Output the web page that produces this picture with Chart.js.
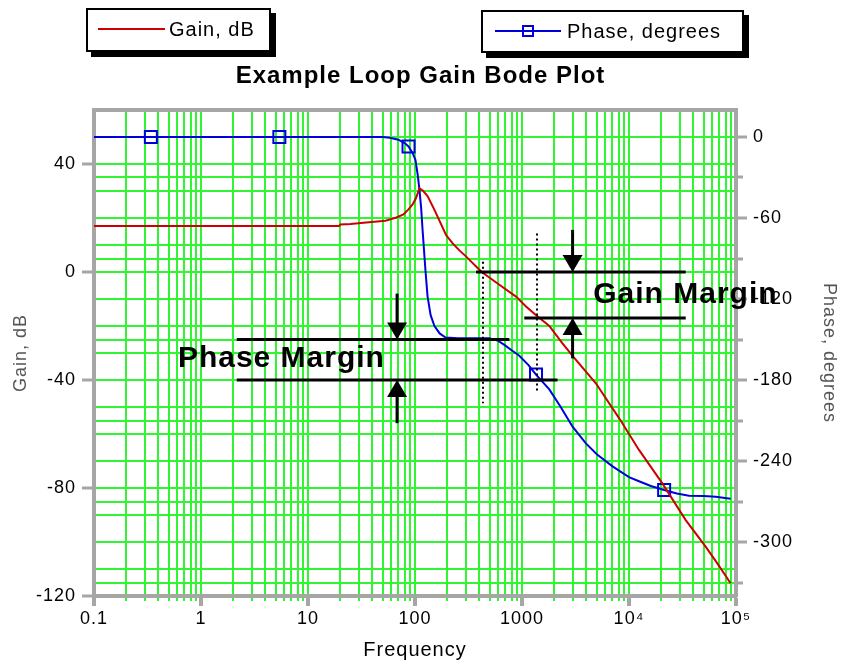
<!DOCTYPE html>
<html>
<head>
<meta charset="utf-8">
<title>Example Loop Gain Bode Plot</title>
<script src="https://cdn.jsdelivr.net/npm/chart.js@4.4.1/dist/chart.umd.min.js"></script>
<style>
  body { margin: 0; background: #fff; }
  #wrap { position: relative; width: 841px; height: 662px; font-family: 'Liberation Sans', Arial, sans-serif; }
  .legend-box { position: absolute; box-sizing: border-box; border: 2px solid #000; box-shadow: 5px 5px 0 #000; background: #fff; }
  .legend-box .swatch { position: absolute; height: 2px; }
  .legend-box .marker { position: absolute; width: 12px; height: 12px; box-sizing: border-box; border: 2px solid #0000dd; }
  .legend-box .label { position: absolute; font-size: 20px; line-height: 24px; letter-spacing: 1px; color: #000; white-space: nowrap; }
</style>
</head>
<body>
<div id="wrap">
  <canvas id="bodeChart" width="841" height="662"></canvas>
  <div class="legend-box" style="left:86px; top:8px; width:185px; height:44px;">
    <div class="swatch" style="left:10px; top:18px; width:67px; background:#cc0000;"></div>
    <div class="label" style="left:81px; top:7px;">Gain, dB</div>
  </div>
  <div class="legend-box" style="left:481px; top:10px; width:263px; height:43px;">
    <div class="swatch" style="left:12px; top:18px; width:66px; background:#0000dd;"></div>
    <div class="marker" style="left:39px; top:13px;"></div>
    <div class="label" style="left:84px; top:7px;">Phase, degrees</div>
  </div>
</div>
<script>
// values
const gainFreq = [0.1, 19.6, 20, 25, 35, 53, 67, 78, 86, 95, 102, 110, 118, 131, 152, 195, 225, 260, 301, 395, 430,
  614, 879, 1090, 1400, 1800, 2390, 2970, 4900, 8100, 12400, 20500, 33900, 52000, 66900, 89000];
const gainDb = [17, 17, 17.6, 17.8, 18.3, 19.0, 20.2, 21.3, 23, 25, 27.3, 31, 30.2, 28.1, 23, 13.7, 10.6, 8, 5.7, 1.0, -0.3,
  -4.7, -9.1, -12.8, -16.5, -20, -26.4, -31.1, -41.2, -54.2, -65.9, -78.3, -91.9, -101.7, -107.9, -115.3];

const phaseFreq = [0.1, 0.34, 5.4, 50, 58, 70, 80, 87, 95, 101, 106, 110, 114, 118, 125, 131, 140, 152, 170, 193, 250,
  350, 495, 600, 684, 800, 944, 1150, 1352, 1800, 2300, 2970, 3955, 5000, 7015, 10000, 12400, 16000, 21300, 28000,
  36400, 50000, 64600, 89000];
const phaseDeg = [0, 0, 0, 0, -0.5, -2, -4.5, -7, -12, -17, -28, -39, -52, -70, -98, -118, -132, -140, -145.5, -148.5, -149,
  -149, -149, -151, -154, -158, -162, -169, -176, -187, -200, -214.6, -227, -235, -244, -252, -255, -258.5, -261.5, -264,
  -265.7, -266, -266.4, -268];
const phaseMarkerFreq = [0.34, 5.4, 87, 1352, 21300];

const decadeTicks = [0.1, 1, 10, 100, 1000, 1e4, 1e5];
const decadeLabels = ['0.1', '1', '10', '100', '1000', '10\u2074', '10\u2075'];
const gainGrid = [60, 50, 40, 30, 20, 10, 0, -10, -20, -30, -40, -50, -60, -70, -80, -90, -100, -110, -120];
const gainTickLabels = [40, 0, -40, -80, -120];
const phaseGrid = [0, -30, -60, -90, -120, -150, -180, -210, -240, -270, -300, -330];
const phaseTickLabels = [0, -60, -120, -180, -240, -300];

// margin construction, in data units (Hz, dB, degrees)
const pmLevels = [-150, -180];
const pmLineFreq = [[2.16, 762], [2.16, 2150]];
const pmArrowFreq = 68;
const pmArrowTails = [-116, -212];
const gmLevels = [0, -17];
const gmLineFreq = [[372, 33900], [1050, 33900]];
const gmArrowFreq = 2970;
const gmArrowTails = [15.6, -32];
const crossFreq = [430, 1380];
const crossGain = [[3.8, -48.6], [14.3, -44.3]];
const pmTextAt = [0.608, -35.2];
const gmTextAt = [4633, -11.6];

// log grid: every 1..9 within each decade
const freqGrid = [];
decadeTicks.slice(0, -1).forEach(d => {
  for (let m = 1; m < 10; m++) freqGrid.push(d * m);
});
freqGrid.push(1e5);

const GRID = 'rgb(48,245,48)';
const AXIS = '#a6a6a6';

function isDecade(v) {
  return decadeTicks.some(d => Math.abs(v / d - 1) < 1e-6);
}
function decadeLabel(v) {
  const i = decadeTicks.findIndex(d => Math.abs(v / d - 1) < 1e-6);
  return i >= 0 ? decadeLabels[i] : '';
}

const bodeExtras = {
  id: 'bodeExtras',
  beforeDraw(chart) {
    chart.ctx.letterSpacing = '1px';
  },
  afterDatasetsDraw(chart) {
    const ctx = chart.ctx;
    const xs = chart.scales.x, yg = chart.scales.y, yp = chart.scales.y2;
    const area = chart.chartArea;
    const X = f => xs.getPixelForValue(f);

    ctx.save();
    // top frame line
    ctx.strokeStyle = AXIS;
    ctx.lineWidth = 4;
    ctx.beginPath();
    ctx.moveTo(area.left - 2, area.top);
    ctx.lineTo(area.right + 2, area.top);
    ctx.stroke();

    ctx.strokeStyle = '#000';
    ctx.fillStyle = '#000';

    function hline(y, f1, f2) {
      ctx.lineWidth = 3;
      ctx.beginPath();
      ctx.moveTo(X(f1), y);
      ctx.lineTo(X(f2), y);
      ctx.stroke();
    }
    function arrow(x, yTail, yTip) {
      const dir = yTip > yTail ? 1 : -1;
      ctx.lineWidth = 3;
      ctx.beginPath();
      ctx.moveTo(x, yTail);
      ctx.lineTo(x, yTip - dir * 16);
      ctx.stroke();
      ctx.beginPath();
      ctx.moveTo(x, yTip);
      ctx.lineTo(x - 10, yTip - dir * 17);
      ctx.lineTo(x + 10, yTip - dir * 17);
      ctx.closePath();
      ctx.fill();
    }

    // phase margin
    pmLevels.forEach((p, i) => hline(yp.getPixelForValue(p), pmLineFreq[i][0], pmLineFreq[i][1]));
    pmLevels.forEach((p, i) => arrow(X(pmArrowFreq), yp.getPixelForValue(pmArrowTails[i]), yp.getPixelForValue(p)));
    // gain margin
    gmLevels.forEach((g, i) => hline(yg.getPixelForValue(g), gmLineFreq[i][0], gmLineFreq[i][1]));
    gmLevels.forEach((g, i) => arrow(X(gmArrowFreq), yg.getPixelForValue(gmArrowTails[i]), yg.getPixelForValue(g)));

    // dotted crossover markers
    ctx.lineWidth = 2;
    ctx.setLineDash([2, 3]);
    crossFreq.forEach((f, i) => {
      ctx.beginPath();
      ctx.moveTo(Math.round(X(f)), yg.getPixelForValue(crossGain[i][0]));
      ctx.lineTo(Math.round(X(f)), yg.getPixelForValue(crossGain[i][1]));
      ctx.stroke();
    });
    ctx.setLineDash([]);

    ctx.font = 'bold 30px "Liberation Sans", Arial, sans-serif';
    ctx.textAlign = 'left';
    ctx.textBaseline = 'alphabetic';
    ctx.fillText('Phase Margin', X(pmTextAt[0]), yg.getPixelForValue(pmTextAt[1]));
    ctx.fillText('Gain Margin', X(gmTextAt[0]), yg.getPixelForValue(gmTextAt[1]));
    ctx.restore();
  }
};

Chart.defaults.font.family = "'Liberation Sans', Arial, sans-serif";
Chart.defaults.color = '#000';

const ctx = document.getElementById('bodeChart').getContext('2d');
const bodeChart = new Chart(ctx, {
  type: 'line',
  data: {
    datasets: [{
      label: 'Gain, dB',
      data: gainFreq.map((f, i) => ({x: f, y: gainDb[i]})),
      yAxisID: 'y',
      borderColor: '#cc0000',
      borderWidth: 2,
      pointRadius: 0,
      tension: 0
    }, {
      label: 'Phase, degrees',
      data: phaseFreq.map((f, i) => ({x: f, y: phaseDeg[i]})),
      yAxisID: 'y2',
      borderColor: '#0000dd',
      borderWidth: 2,
      tension: 0,
      pointStyle: 'rect',
      pointRadius: c => phaseMarkerFreq.includes(c.raw.x) ? 8.5 : 0,
      pointHoverRadius: 0,
      pointBorderColor: '#0000dd',
      pointBorderWidth: 2,
      pointBackgroundColor: 'rgba(0,0,0,0)'
    }]
  },
  options: {
    responsive: false,
    animation: false,
    events: [],
    layout: { padding: 0 },
    plugins: {
      legend: { display: false },
      tooltip: { enabled: false },
      title: {
        display: true,
        text: 'Example Loop Gain Bode Plot',
        font: { size: 24, weight: 'bold', lineHeight: 1.2 },
        color: '#000',
        padding: { top: 62, bottom: 19.2 }
      }
    },
    scales: {
      x: {
        type: 'logarithmic',
        min: 0.1,
        max: 1e5,
        afterBuildTicks: s => { s.ticks = freqGrid.map(v => ({value: v})); },
        afterFit: s => { s.height = 66; },
        ticks: {
          autoSkip: false,
          maxRotation: 0,
          padding: 2,
          font: { size: 18 },
          callback: v => decadeLabel(v)
        },
        grid: {
          color: GRID,
          lineWidth: 2,
          tickLength: 10,
          tickColor: c => isDecade(c.tick.value) ? AXIS : GRID,
          tickWidth: c => isDecade(c.tick.value) ? 4 : 2,
          tickBorderDash: c => isDecade(c.tick.value) ? [] : [3, 100]
        },
        border: { color: AXIS, width: 4 },
        title: {
          display: true,
          text: 'Frequency',
          font: { size: 20 },
          color: '#000',
          padding: { top: 0, bottom: 0 }
        }
      },
      y: {
        type: 'linear',
        position: 'left',
        min: -120,
        max: 60,
        afterBuildTicks: s => { s.ticks = gainGrid.map(v => ({value: v})); },
        afterFit: s => { s.width = 94; },
        ticks: {
          padding: 6,
          font: { size: 18 },
          callback: v => gainTickLabels.includes(v) ? String(v) : ''
        },
        grid: {
          color: GRID,
          lineWidth: 2,
          tickLength: 12,
          tickWidth: 3,
          tickColor: c => gainTickLabels.includes(c.tick.value) ? AXIS : 'rgba(0,0,0,0)'
        },
        border: { color: AXIS, width: 4 },
        title: {
          display: true,
          text: 'Gain, dB',
          font: { size: 18 },
          color: '#555',
          padding: { top: 10, bottom: 0 }
        }
      },
      y2: {
        type: 'linear',
        position: 'right',
        min: -340,
        max: 20,
        afterBuildTicks: s => { s.ticks = phaseGrid.map(v => ({value: v})); },
        afterFit: s => { s.width = 105; },
        ticks: {
          padding: 6,
          font: { size: 18 },
          callback: v => phaseTickLabels.includes(v) ? String(v) : ''
        },
        grid: {
          drawOnChartArea: true,
          color: GRID,
          lineWidth: 2,
          tickLength: 11,
          tickWidth: 3,
          tickColor: AXIS,
          tickBorderDash: c => phaseTickLabels.includes(c.tick.value) ? [] : [5, 100]
        },
        border: { color: AXIS, width: 4 },
        title: {
          display: true,
          text: 'Phase, degrees',
          font: { size: 18 },
          color: '#555',
          padding: { top: 1, bottom: 0 }
        }
      }
    }
  },
  plugins: [bodeExtras]
});
</script>
</body>
</html>
